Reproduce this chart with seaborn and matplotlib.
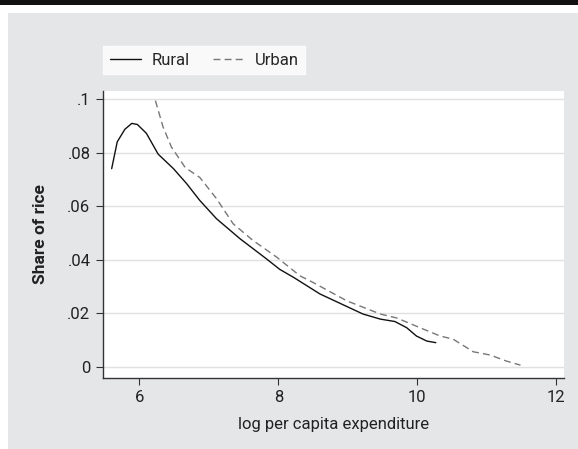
import pandas as pd
import matplotlib.pyplot as plt
import seaborn as sns
from matplotlib.patches import Rectangle

# values
rural_x = [5.60, 5.68, 5.79, 5.89, 5.97, 6.10, 6.27, 6.49, 6.68, 6.87, 7.11, 7.45,
           7.83, 8.02, 8.22, 8.60, 9.22, 9.47, 9.68, 9.85, 9.99, 10.14, 10.27]
rural_y = [0.0741, 0.0841, 0.0888, 0.0910, 0.0906, 0.0873, 0.0795, 0.0741, 0.0685,
           0.0622, 0.0554, 0.0479, 0.0404, 0.0365, 0.0335, 0.0273, 0.0198, 0.0179,
           0.0170, 0.0147, 0.0116, 0.0097, 0.0091]
urban_x = [6.23, 6.34, 6.46, 6.66, 6.87, 7.11, 7.35, 7.64, 7.98, 8.31, 8.50, 8.99,
           9.47, 9.71, 10.04, 10.33, 10.52, 10.81, 11.05, 11.29, 11.49]
urban_y = [0.0995, 0.0897, 0.0822, 0.0745, 0.0708, 0.0629, 0.0535, 0.0472, 0.0410,
           0.0341, 0.0316, 0.0247, 0.0198, 0.0183, 0.0147, 0.0116, 0.0104, 0.0057,
           0.0045, 0.0022, 0.0007]
x_ticks = [6, 8, 10, 12]
y_ticks = [0, 0.02, 0.04, 0.06, 0.08, 0.1]
y_labels = ["0", ".02", ".04", ".06", ".08", ".1"]

sns.set_theme(style="white")
plt.rcParams["font.family"] = ["Roboto", "DejaVu Sans"]

df = pd.concat([
    pd.DataFrame({"x": rural_x, "y": rural_y, "group": "Rural"}),
    pd.DataFrame({"x": urban_x, "y": urban_y, "group": "Urban"}),
])

fig = plt.figure(figsize=(5.78, 4.49), dpi=100)
fig.patch.set_facecolor("white")
# grey panel and black band at top
fig.patches.append(Rectangle((8 / 578, 0), 1, 1 - 13 / 449, transform=fig.transFigure,
                             facecolor="#e5e6e8", edgecolor="none", zorder=-2))
fig.patches.append(Rectangle((0, 1 - 5 / 449), 1, 5 / 449, transform=fig.transFigure,
                             facecolor="#111111", edgecolor="none", zorder=-2))

ax = fig.add_axes([103 / 578, 1 - 378 / 449, (564 - 103) / 578, (378 - 91) / 449])
ax.set_facecolor("white")

sns.lineplot(data=df, x="x", y="y", hue="group", style="group",
             palette={"Rural": "#111111", "Urban": "#777777"},
             dashes={"Rural": "", "Urban": (5, 3)}, linewidth=1.0, ax=ax)

ax.set_xlim(5.475, 12.117)
ax.set_ylim(-0.0041, 0.1031)
ax.set_xticks(x_ticks)
ax.set_yticks(y_ticks)
ax.set_yticklabels(y_labels)
ax.grid(axis="y", color="#e0e0e0", linewidth=1.0)
ax.set_axisbelow(True)
for s in ["top", "right"]:
    ax.spines[s].set_visible(False)
for s in ["left", "bottom"]:
    ax.spines[s].set_color("#333333")
    ax.spines[s].set_linewidth(1.0)
ax.tick_params(axis="both", direction="out", length=5, width=0.8, color="#333333",
               labelsize=12, labelcolor="#222222", pad=4, left=True, bottom=True)

ax.set_xlabel("log per capita expenditure", fontsize=12, color="#222222", labelpad=8)
ax.set_ylabel("Share of rice", fontsize=12.5, fontweight="bold", color="#222222",
              labelpad=14)

handles, labels = ax.get_legend_handles_labels()
leg = fig.legend(handles, labels, loc="upper left",
                 bbox_to_anchor=(103 / 578, 1 - 46 / 449), ncol=2, frameon=True,
                 fontsize=12, handlelength=1.9, handletextpad=0.6, columnspacing=1.4,
                 borderpad=0.4, borderaxespad=0, fancybox=False)
leg.get_frame().set_facecolor("white")
leg.get_frame().set_edgecolor("white")
ax.get_legend().remove()

fig.savefig("out.png", dpi=100)
